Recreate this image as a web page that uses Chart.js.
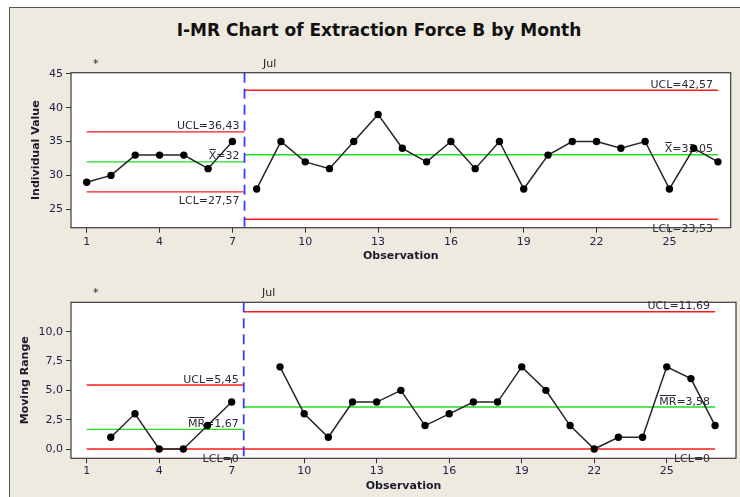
<!DOCTYPE html>
<html>
<head>
<meta charset="utf-8">
<script src="https://cdn.jsdelivr.net/npm/chart.js@4.4.1/dist/chart.umd.min.js"></script>
<style>
  html, body { margin: 0; padding: 0; background: #ffffff; overflow: hidden; width: 740px; height: 497px; }
  #frame {
    position: absolute; left: 9px; top: 7px; width: 731px; height: 490px;
    background: #EEEAE0; border-left: 1px solid #555; border-top: 1px solid #555;
  }
  #title {
    position: absolute; left: 379px; top: 19px; transform: translateX(-50%);
    font: bold 17px "DejaVu Sans", sans-serif; color: #111; white-space: nowrap; line-height: 22px;
  }
  canvas { position: absolute; left: 0; }
  #cI { top: 0; }
  #cMR { top: 270px; }
</style>
</head>
<body>
<div id="frame"></div>
<div id="title">I-MR Chart of Extraction Force B by Month</div>
<canvas id="cI" width="740" height="270"></canvas>
<canvas id="cMR" width="740" height="227"></canvas>
<script>
// Observations and measured extraction force
const observations = [1, 2, 3, 4, 5, 6, 7, 8, 9, 10, 11, 12, 13, 14, 15, 16, 17, 18, 19, 20, 21, 22, 23, 24, 25, 26, 27];
const individualValues = [29, 30, 33, 33, 33, 31, 35, 28, 35, 32, 31, 35, 39, 34, 32, 35, 31, 35, 28, 33, 35, 35, 34, 35, 28, 34, 32];
const movingRanges = [null, 1, 3, 0, 0, 2, 4, null, 7, 3, 1, 4, 4, 5, 2, 3, 4, 4, 7, 5, 2, 0, 1, 1, 7, 6, 2];

// Stages (month)
const stageNames = ['*', 'Jul'];
const stageFirstObs = [1, 8];
const stageLastObs = [7, 27];

// Control limits per stage
const iUCL = [36.43, 42.57];
const iCL = [32, 33.05];
const iLCL = [27.57, 23.53];
const mrUCL = [5.45, 11.69];
const mrCL = [1.67, 3.58];
const mrLCL = [0, 0];

// Axis ticks
const xTicks = [1, 4, 7, 10, 13, 16, 19, 22, 25];
const iTicks = [25, 30, 35, 40, 45];
const iTickLabels = ['25', '30', '35', '40', '45'];
const mrTicks = [0, 2.5, 5, 7.5, 10];
const mrTickLabels = ['0,0', '2,5', '5,0', '7,5', '10,0'];

const FONT = '"DejaVu Sans", sans-serif';
const RED = '#ff1a1a';
const GREEN = '#22dd22';
const TICK_COLOR = '#22224a';
const TEXT_COLOR = '#2a2a3a';

function fmt(v) { return String(v).replace('.', ','); }

function stageSpan(s) {
  const from = s === 0 ? stageFirstObs[s] : stageFirstObs[s] - 0.5;
  const to = s === stageNames.length - 1 ? stageLastObs[s] : stageLastObs[s] + 0.5;
  return [from, to];
}

function drawLimitLabel(ctx, name, barLen, value, xRight, yLine, above) {
  const text = name + '=' + fmt(value);
  ctx.font = '11px ' + FONT;
  ctx.fillStyle = TEXT_COLOR;
  ctx.textAlign = 'right';
  ctx.textBaseline = 'alphabetic';
  const y = above ? yLine - 2.5 : yLine + 12.5;
  ctx.fillText(text, xRight, y);
  if (barLen) {
    const w = ctx.measureText(text).width;
    const sw = ctx.measureText(name).width;
    const x0 = xRight - w;
    ctx.strokeStyle = TEXT_COLOR;
    ctx.lineWidth = 1;
    ctx.beginPath();
    ctx.moveTo(x0 + 0.5, Math.round(y - 10) + 0.5);
    ctx.lineTo(x0 + sw - 0.5, Math.round(y - 10) + 0.5);
    ctx.stroke();
  }
}

function makeChart(id, o) {
  const datasets = [];
  stageNames.forEach((name, s) => {
    const [from, to] = stageSpan(s);
    [[o.ucl[s], RED], [o.cl[s], GREEN], [o.lcl[s], RED]].forEach(([v, c]) => {
      datasets.push({
        data: [{ x: from, y: v }, { x: to, y: v }],
        borderColor: c, borderWidth: 1.4, pointRadius: 0, order: 2
      });
    });
    const pts = [];
    observations.forEach((x, i) => {
      if (x >= stageFirstObs[s] && x <= stageLastObs[s] && o.values[i] !== null) {
        pts.push({ x: x, y: o.values[i] });
      }
    });
    datasets.push({
      data: pts, borderColor: '#262626', borderWidth: 1.5,
      pointRadius: 3.7, pointBackgroundColor: '#000', pointBorderColor: '#000', pointBorderWidth: 0,
      order: 0
    });
  });
  for (let s = 1; s < stageNames.length; s++) {
    const b = stageFirstObs[s] - 0.5;
    datasets.push({
      data: [{ x: b, y: o.yMax }, { x: b, y: o.yMin }],
      borderColor: '#3b3bff', borderWidth: 1.8, borderDash: [10, 6], pointRadius: 0, order: 1
    });
  }

  const panel = {
    id: 'panel',
    beforeDraw(chart) {
      const a = chart.chartArea, ctx = chart.ctx;
      ctx.save();
      ctx.fillStyle = '#ffffff';
      ctx.fillRect(a.left, a.top, a.right - a.left, a.bottom - a.top);
      ctx.restore();
    },
    beforeDatasetsDraw(chart) {
      const ctx = chart.ctx, xs = chart.scales.x, ys = chart.scales.y;
      ctx.save();
      stageNames.forEach((name, s) => {
        const [, to] = stageSpan(s);
        const xr = xs.getPixelForValue(to) - 5;
        drawLimitLabel(ctx, 'UCL', 0, o.ucl[s], xr, ys.getPixelForValue(o.ucl[s]), true);
        drawLimitLabel(ctx, o.clName, o.clName.length, o.cl[s], xr, ys.getPixelForValue(o.cl[s]), true);
        drawLimitLabel(ctx, 'LCL', 0, o.lcl[s], xr, ys.getPixelForValue(o.lcl[s]), false);
      });
      ctx.restore();
    },
    afterDraw(chart) {
      const a = chart.chartArea, ctx = chart.ctx, xs = chart.scales.x;
      ctx.save();
      ctx.strokeStyle = '#3a3a3a';
      ctx.lineWidth = 1.2;
      ctx.strokeRect(a.left, a.top, a.right - a.left, a.bottom - a.top);
      ctx.font = '11px ' + FONT;
      ctx.fillStyle = '#222';
      ctx.textAlign = 'left';
      ctx.textBaseline = 'middle';
      stageNames.forEach((name, s) => {
        ctx.fillText(name, xs.getPixelForValue(stageFirstObs[s] + 0.26), a.top - 9);
      });
      ctx.restore();
    }
  };

  return new Chart(document.getElementById(id), {
    type: 'line',
    data: { datasets },
    options: {
      responsive: false, animation: false, devicePixelRatio: 1,
      layout: { padding: { top: o.padTop, right: o.padRight, left: 0, bottom: 0 } },
      plugins: { legend: { display: false }, tooltip: { enabled: false } },
      elements: { line: { tension: 0 } },
      scales: {
        x: {
          type: 'linear', min: o.xMin, max: o.xMax,
          afterBuildTicks: sc => { sc.ticks = xTicks.map(v => ({ value: v })); },
          afterFit: sc => { sc.height = o.xAxisHeight; },
          ticks: {
            color: TICK_COLOR, font: { family: FONT, size: 11 }, padding: o.xTickPad,
            maxRotation: 0, autoSkip: false, callback: v => String(v)
          },
          grid: { drawOnChartArea: false, tickLength: 5, color: '#333', tickColor: '#333', tickWidth: 1 },
          border: { display: false },
          title: {
            display: true, text: 'Observation', color: '#1a1a2e',
            font: { family: FONT, size: 11, weight: 'bold' }, padding: { top: 0, bottom: o.xTitlePad }
          }
        },
        y: {
          type: 'linear', min: o.yMin, max: o.yMax,
          afterBuildTicks: sc => { sc.ticks = o.ticks.map(v => ({ value: v })); },
          afterFit: sc => { sc.width = 71; },
          ticks: {
            color: TICK_COLOR, font: { family: FONT, size: 11 }, padding: 3,
            autoSkip: false, callback: v => o.tickLabels[o.ticks.indexOf(v)]
          },
          grid: { drawOnChartArea: false, tickLength: 5, color: '#333', tickColor: '#333', tickWidth: 1 },
          border: { display: false },
          title: {
            display: true, text: o.yTitle, color: '#1a1a2e',
            font: { family: FONT, size: 11, weight: 'bold' }, padding: { top: o.yTitlePad, bottom: 0 }
          }
        }
      }
    },
    plugins: [panel]
  });
}

makeChart('cI', {
  values: individualValues, ucl: iUCL, cl: iCL, lcl: iLCL, clName: 'X',
  ticks: iTicks, tickLabels: iTickLabels, yTitle: 'Individual Value',
  yMin: 22.28, yMax: 45.16, xMin: 0.3534, xMax: 27.524,
  padTop: 72.7, padRight: 9.3, xAxisHeight: 42.3, xTickPad: 2.9, xTitlePad: 7.4, yTitlePad: 29.4
});

makeChart('cMR', {
  values: movingRanges, ucl: mrUCL, cl: mrCL, lcl: mrLCL, clName: 'MR',
  ticks: mrTicks, tickLabels: mrTickLabels, yTitle: 'Moving Range',
  yMin: -0.79, yMax: 12.5, xMin: 0.3534, xMax: 27.865,
  padTop: 32.3, padRight: 1, xAxisHeight: 38.7, xTickPad: 0.8, xTitlePad: 4.4, yTitlePad: 18.4
});
</script>
</body>
</html>
